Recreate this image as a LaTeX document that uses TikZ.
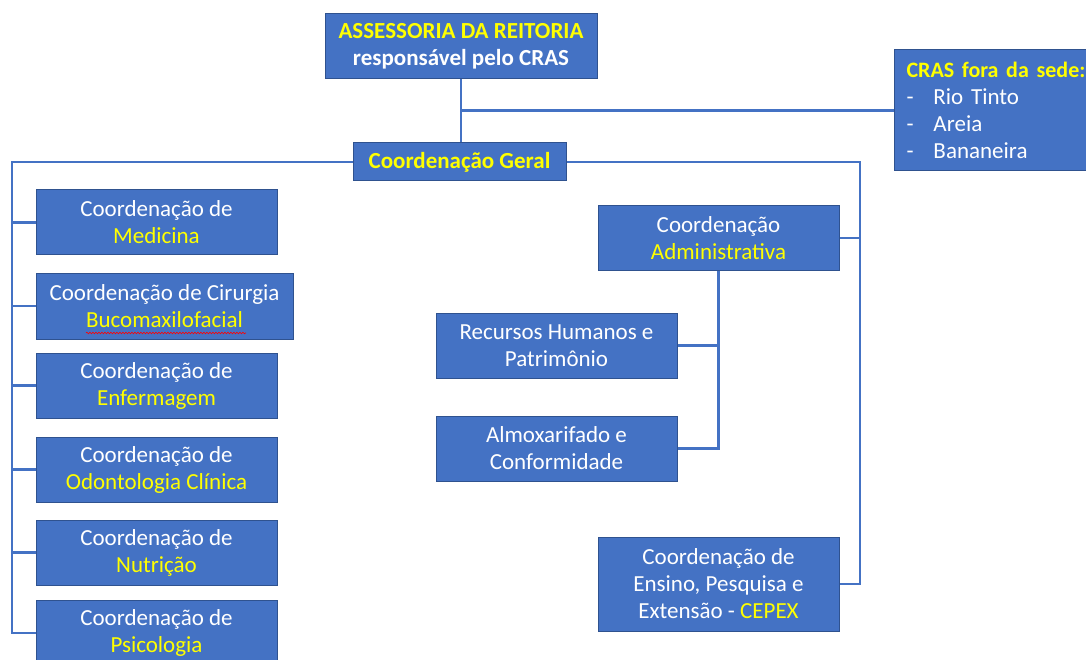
\documentclass[tikz,border=0pt]{standalone}
\usepackage{fontspec}
\setmainfont{Carlito}
\usetikzlibrary{decorations.pathmorphing}
\definecolor{caixaazul}{HTML}{4472C4}
\definecolor{bordaazul}{HTML}{2F528F}
\definecolor{amarelo}{HTML}{FFFF00}
\newcommand{\am}[1]{{\color{amarelo}#1}}
\begin{document}
\begin{tikzpicture}[x=1pt,y=-1pt,
    caixa/.style={draw=bordaazul,fill=caixaazul,line width=1pt,text=white,align=center,inner sep=0pt,font=\fontsize{23}{27}\selectfont},
    liga/.style={draw=caixaazul,line width=2.2pt}]
                      \useasboundingbox (0,0) rectangle (1086,660);
                      \clip (0,0) rectangle (1086,660);
                      % topo
                      \node[caixa,minimum width=272,minimum height=65](ass)at(461,46.5){\bfseries\am{ASSESSORIA DA REITORIA}\\\bfseries responsável pelo CRAS};
                      \node[caixa,anchor=west,minimum height=121,text width=200,inner xsep=12pt,align=left](cras)at(894,110.5){\mbox{\fontsize{22}{27}\selectfont\bfseries\am{CRAS fora da sede:}}\\\makebox[27pt][l]{-}Rio Tinto\\\makebox[27pt][l]{-}Areia\\\makebox[27pt][l]{-}Bananeira};
                      \node[caixa,minimum width=213,minimum height=38](geral)at(459.5,162){\bfseries\am{Coordenação Geral}};
                      % coluna esquerda
                      \node[caixa,minimum width=241,minimum height=65](med)at(156.5,222.5){Coordenação de\\\am{Medicina}};
                      \node[caixa,minimum width=257,minimum height=66](cir)at(164.5,306){Coordenação de Cirurgia\\\am{Bucomaxilofacial}};
                      \node[caixa,minimum width=241,minimum height=65](enf)at(156.5,385.5){Coordenação de\\\am{Enfermagem}};
                      \node[caixa,minimum width=241,minimum height=65](odo)at(156.5,469.5){Coordenação de\\\am{Odontologia Clínica}};
                      \node[caixa,minimum width=241,minimum height=65](nut)at(156.5,552.5){Coordenação de\\\am{Nutrição}};
                      \node[caixa,minimum width=241,minimum height=66](psi)at(156.5,633){Coordenação de\\\am{Psicologia}};
                      \draw[red,line width=0.6pt,decorate,decoration={snake,amplitude=0.8pt,segment length=3pt}](86,333)--(246,333);
                      % lado direito
                      \node[caixa,minimum width=241,minimum height=64](adm)at(718.5,238){Coordenação\\\am{Administrativa}};
                      \node[caixa,minimum width=241,minimum height=65](rh)at(556.5,345.5){Recursos Humanos e\\Patrimônio};
                      \node[caixa,minimum width=241,minimum height=65](alm)at(556.5,448.5){Almoxarifado e\\Conformidade};
                      \node[caixa,minimum width=241,minimum height=94](cep)at(718.5,584){Coordenação de\\Ensino, Pesquisa e\\Extensão - \am{CEPEX}};
                      % ligacoes
                      \coordinate(esq)at(12,162);
                      \coordinate(dir)at(860,162);
                      \draw[liga](ass.south)--(ass.south|-geral.north);
                      \draw[liga](ass.south|-cras.west)--(cras.west);
                      \draw[liga](geral.west)--(esq)--(esq|-psi.west)--(psi.west);
                      \foreach \n in {med,cir,enf,odo,nut} \draw[liga](esq|-\n.west)--(\n.west);
                      \draw[liga](geral.east)--(dir)--(dir|-cep.east)--(cep.east);
                      \draw[liga](adm.east)--(dir|-adm.east);
                      \draw[liga](adm.south)--(adm.south|-alm.east)--(alm.east);
                      \draw[liga](rh.east)--(adm.south|-rh.east);
                  \end{tikzpicture}
\end{document}
